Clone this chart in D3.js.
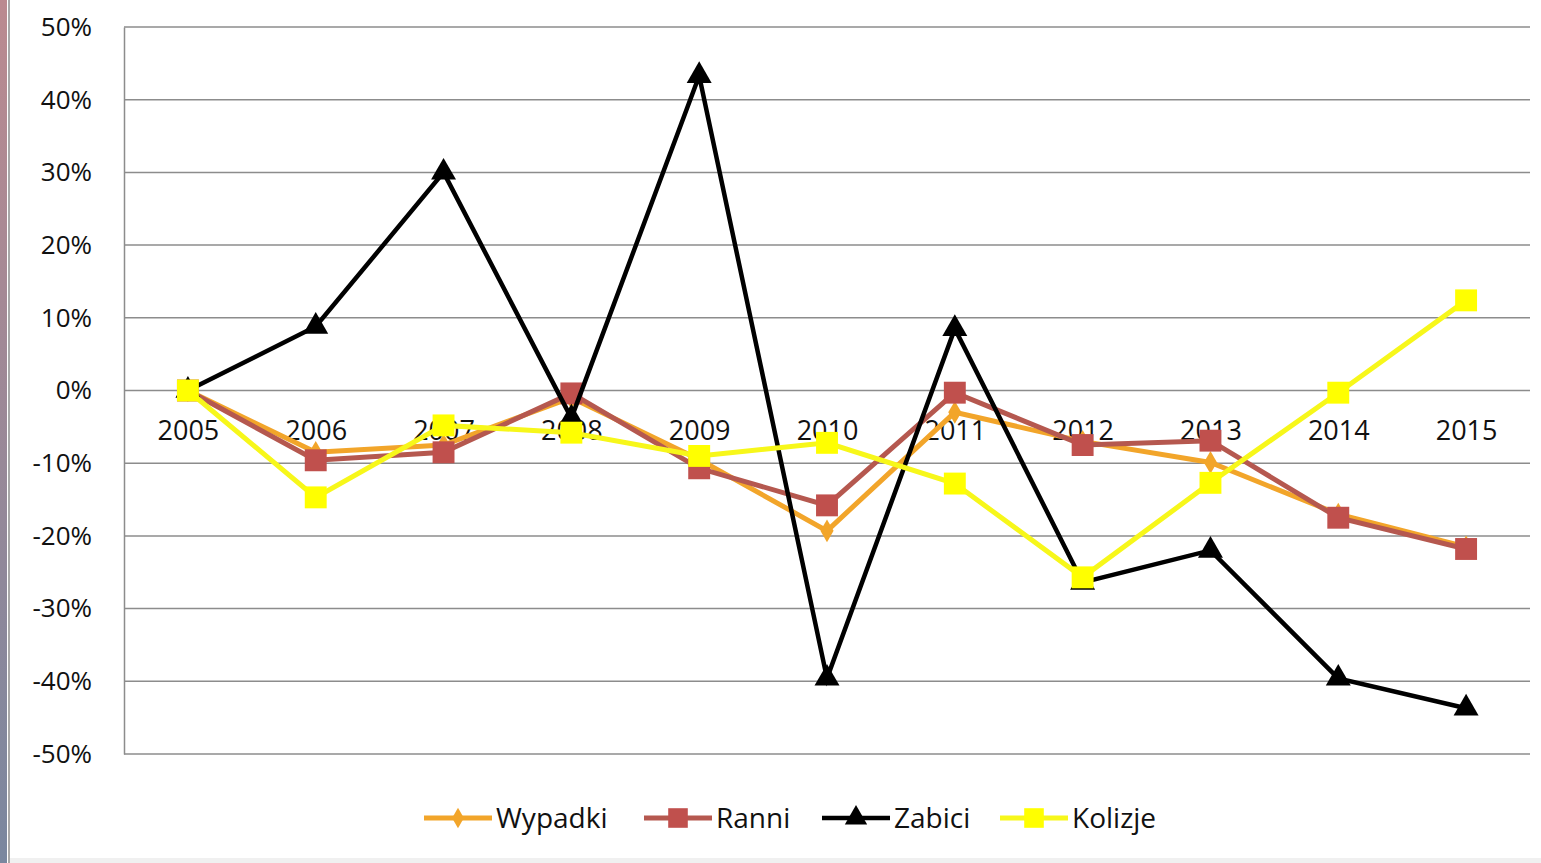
<!DOCTYPE html>
<html>
<head>
<meta charset="utf-8">
<script src="https://cdn.jsdelivr.net/npm/d3@7"></script>
<style>
  body { margin: 0; background: #fff; }
  svg { display: block; }
</style>
</head>
<body>
<script>
// data (change vs 2005)
var years = ["2005","2006","2007","2008","2009","2010","2011","2012","2013","2014","2015"];
var wypadki = [0, -0.085, -0.075, -0.01, -0.095, -0.193, -0.03, -0.07, -0.099, -0.17, -0.215];
var ranni   = [0, -0.096, -0.085, -0.004, -0.107, -0.158, -0.003, -0.075, -0.069, -0.175, -0.218];
var zabici  = [0, 0.088, 0.30, -0.038, 0.433, -0.396, 0.085, -0.264, -0.22, -0.396, -0.437];
var kolizje = [0, -0.147, -0.048, -0.058, -0.09, -0.072, -0.128, -0.257, -0.127, -0.003, 0.124];
var yTicks = [0.5, 0.4, 0.3, 0.2, 0.1, 0, -0.1, -0.2, -0.3, -0.4, -0.5];

var series = [
  { name: "Wypadki", values: wypadki, color: "#f2a52a", marker: d3.symbolDiamond, size: 150, width: 5 },
  { name: "Ranni",   values: ranni,   color: "#c0504d", line: "#b5584f", marker: d3.symbolSquare, size: 480, width: 5 },
  { name: "Zabici",  values: zabici,  color: "#000000", marker: d3.symbolTriangle, size: 270, width: 4.5 },
  { name: "Kolizje", values: kolizje, color: "#ffff00", line: "#f7f71a", marker: d3.symbolSquare, size: 480, width: 5 }
];

var W = 1541, H = 863;
var svg = d3.select("body").append("svg")
    .attr("width", W)
    .attr("height", H);

// slide edge decoration on the left
var grad = svg.append("defs").append("linearGradient")
    .attr("id", "edge").attr("x1", 0).attr("y1", 0).attr("x2", 0).attr("y2", 1);
grad.append("stop").attr("offset", "0%").attr("stop-color", "#bb8a90");
grad.append("stop").attr("offset", "100%").attr("stop-color", "#7a879f");
svg.append("rect").attr("x", 0).attr("y", 0).attr("width", 7).attr("height", H).attr("fill", "url(#edge)");
svg.append("rect").attr("x", 8).attr("y", 0).attr("width", 2).attr("height", H).attr("fill", "#a8a8a8");
svg.append("rect").attr("x", 10).attr("y", H - 5).attr("width", W - 10).attr("height", 5).attr("fill", "#f0f0f0");

var x = d3.scalePoint().domain(years).range([124, 1530]).padding(0.5);
var y = d3.scaleLinear().domain([-0.5, 0.5]).range([754, 27]);

var pct = function(d) { return d3.format(".0%")(d).replace("\u2212", "-"); };

// gridlines
svg.selectAll("line.grid")
    .data(yTicks)
    .enter().append("line")
    .attr("class", "grid")
    .attr("x1", 124).attr("x2", 1530)
    .attr("y1", function(d) { return y(d); })
    .attr("y2", function(d) { return y(d); })
    .attr("stroke", "#8c8c8c")
    .attr("stroke-width", 1.5);

// y axis
var yAxis = svg.append("g")
    .attr("transform", "translate(124,0)")
    .call(d3.axisLeft(y).tickValues(yTicks).tickSize(0).tickPadding(32).tickFormat(pct));
yAxis.select(".domain").attr("stroke", "#8c8c8c").attr("stroke-width", 1.5);
yAxis.selectAll("text")
    .attr("font-family", "'Open Sans', sans-serif")
    .attr("font-size", "26px")
    .attr("fill", "#111");

// category labels sit just under the 0% line
var xAxis = svg.append("g")
    .attr("transform", "translate(0," + y(0) + ")")
    .call(d3.axisBottom(x).tickSize(0).tickPadding(30));
xAxis.select(".domain").remove();
xAxis.selectAll("text")
    .attr("font-family", "'Open Sans', sans-serif")
    .attr("font-size", "27px")
    .attr("fill", "#111");

var line = d3.line()
    .x(function(d, i) { return x(years[i]); })
    .y(function(d) { return y(d); });

series.forEach(function(s) {
  var g = svg.append("g");
  g.append("path")
    .datum(s.values)
    .attr("d", line)
    .attr("fill", "none")
    .attr("stroke", s.line || s.color)
    .attr("stroke-width", s.width)
    .attr("stroke-linejoin", "miter");
  g.selectAll("path.mk")
    .data(s.values)
    .enter().append("path")
    .attr("class", "mk")
    .attr("d", d3.symbol().type(s.marker).size(s.size))
    .attr("transform", function(d, i) { return "translate(" + x(years[i]) + "," + y(d) + ")"; })
    .attr("fill", s.color);
});

// legend
var legendX = [424, 644, 822, 1000];
var leg = svg.selectAll("g.leg")
    .data(series)
    .enter().append("g")
    .attr("class", "leg")
    .attr("transform", function(d, i) { return "translate(" + legendX[i] + ",818)"; });
leg.append("line")
    .attr("x1", 0).attr("x2", 68)
    .attr("stroke", function(d) { return d.line || d.color; })
    .attr("stroke-width", function(d) { return d.width; });
leg.append("path")
    .attr("d", function(d) { return d3.symbol().type(d.marker).size(d.size * 0.8)(); })
    .attr("transform", "translate(34,0)")
    .attr("fill", function(d) { return d.color; });
leg.append("text")
    .attr("x", 72)
    .attr("dy", "0.35em")
    .text(function(d) { return d.name; })
    .attr("font-family", "'Open Sans', sans-serif")
    .attr("font-size", "28px")
    .attr("fill", "#111");
</script>
</body>
</html>
